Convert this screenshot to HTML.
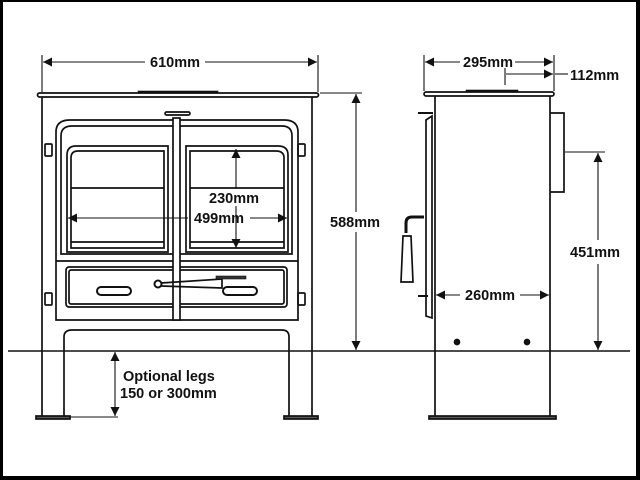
<!DOCTYPE html>
<html><head><meta charset="utf-8"><style>
html,body{margin:0;padding:0;background:#000;}
svg{display:block}
text{font-family:"Liberation Sans",Arial,sans-serif;font-weight:bold;font-size:14.5px;fill:#111}
</style></head><body>
<svg width="640" height="480" viewBox="0 0 640 480" xmlns="http://www.w3.org/2000/svg">
<defs>
<marker id="a" viewBox="0 0 10 10" refX="10" refY="5" markerWidth="11" markerHeight="9" orient="auto-start-reverse" markerUnits="userSpaceOnUse">
<path d="M0,0 L10,5 L0,10 z" fill="#111"/></marker>
</defs>
<rect x="3" y="2" width="633" height="474" fill="#fff"/>
<g stroke="#111" fill="none" stroke-width="1.7">
<line x1="8" y1="351" x2="630" y2="351" stroke-width="1.4"/>
<rect x="37.5" y="93" width="281" height="4" rx="2" stroke-width="1.7"/>
<rect x="138" y="91" width="80" height="2" fill="#111" stroke-width="0.6"/>
<line x1="42" y1="97" x2="42" y2="417"/>
<line x1="312" y1="97" x2="312" y2="417"/>
<line x1="64" y1="351" x2="64" y2="417"/>
<line x1="289" y1="351" x2="289" y2="417"/>
<path d="M64,351 L64,337 Q64,330 72,330 L282,330 Q289,330 289,337 L289,351"/>
<rect x="36" y="416" width="34" height="3" fill="#555"/>
<rect x="284" y="416" width="34" height="3" fill="#555"/>
<path d="M56,320 L56,132 Q56,120 70,120 L284,120 Q298,120 298,132 L298,320 Z"/>
<path d="M61,254 L61,136 Q61,126 72,126 L282,126 Q292,126 292,136 L292,254 Z"/>
<line x1="56" y1="261" x2="298" y2="261"/>
<rect x="66" y="267" width="221" height="40" rx="3"/>
<rect x="69" y="270" width="215" height="34" rx="2"/>
<path d="M67,252 L67,155 Q67,146 76,146 L168,146 L168,252 Z"/>
<path d="M71,248 L71,158 Q71,151 78,151 L164,151 L164,248 Z"/>
<line x1="71" y1="188" x2="164" y2="188"/>
<line x1="71" y1="242" x2="164" y2="242"/>
<path d="M186,252 L186,146 L278,146 Q288,146 288,155 L288,252 Z"/>
<path d="M190,248 L190,151 L276,151 Q284,151 284,158 L284,248 Z"/>
<line x1="190" y1="188" x2="284" y2="188"/>
<line x1="190" y1="242" x2="284" y2="242"/>
<rect x="173" y="118" width="7" height="202" fill="#fff"/>
<rect x="165" y="112" width="25" height="3" rx="1.5"/>
<rect x="97" y="287" width="34" height="8" rx="4" stroke-width="2"/>
<rect x="223" y="287" width="34" height="8" rx="4" stroke-width="2"/>
<circle cx="158" cy="284" r="3.5" stroke-width="2"/>
<path d="M161,283 L222,279 L222,288 L161,286" />
<rect x="216" y="276" width="30" height="3" fill="#333" stroke-width="0.6"/>
<rect x="45" y="144" width="7" height="12" rx="1"/>
<rect x="45" y="293" width="7" height="12" rx="1"/>
<rect x="298" y="144" width="7" height="12" rx="1"/>
<rect x="298" y="293" width="7" height="12" rx="1"/>
<rect x="424" y="92" width="130" height="4" rx="2" stroke-width="1.7"/>
<rect x="466" y="90" width="52" height="2" fill="#111" stroke-width="0.6"/>
<line x1="435" y1="96" x2="435" y2="418"/>
<line x1="550" y1="96" x2="550" y2="418"/>
<rect x="429" y="416" width="127" height="3" fill="#555"/>
<path d="M550,113 L564,113 L564,192 L550,192"/>
<path d="M426,120 L426,316 L432,318 L432,116 Z"/>
<line x1="418" y1="113" x2="433" y2="113" stroke-width="2"/>
<line x1="418" y1="296" x2="428" y2="296" stroke-width="2"/>
<path d="M424,217 L412,217 Q406,217 406,223 L406,233" stroke-width="3"/>
<path d="M403,236 L411,236 L413,282 L401,282 Z" fill="#fff"/>
<circle cx="457" cy="342" r="2.5" fill="#111"/>
<circle cx="527" cy="342" r="2.5" fill="#111"/>
</g>
<g stroke="#111" stroke-width="1.1" fill="none">
<line x1="42" y1="55" x2="42" y2="92"/>
<line x1="318" y1="55" x2="318" y2="92"/>
<line x1="43" y1="62" x2="145" y2="62" marker-start="url(#a)"/>
<line x1="205" y1="62" x2="317" y2="62" marker-end="url(#a)"/>
<line x1="320" y1="93" x2="362" y2="93"/>
<line x1="356" y1="94" x2="356" y2="212" marker-start="url(#a)"/>
<line x1="356" y1="232" x2="356" y2="350" marker-end="url(#a)"/>
<line x1="236" y1="149" x2="236" y2="188" marker-start="url(#a)"/>
<line x1="236" y1="206" x2="236" y2="248" marker-end="url(#a)"/>
<line x1="68" y1="218" x2="188" y2="218" marker-start="url(#a)"/>
<line x1="250" y1="218" x2="287" y2="218" marker-end="url(#a)"/>
<line x1="115" y1="352" x2="115" y2="416" marker-start="url(#a)" marker-end="url(#a)"/>
<line x1="70" y1="417" x2="118" y2="417"/>
<line x1="424" y1="55" x2="424" y2="91"/>
<line x1="554" y1="55" x2="554" y2="91"/>
<line x1="425" y1="62" x2="460" y2="62" marker-start="url(#a)"/>
<line x1="515" y1="62" x2="553" y2="62" marker-end="url(#a)"/>
<line x1="505" y1="68" x2="505" y2="85"/>
<line x1="506" y1="74" x2="553" y2="74" marker-end="url(#a)"/>
<line x1="555" y1="74" x2="568" y2="74"/>
<line x1="565" y1="152" x2="605" y2="152"/>
<line x1="598" y1="153" x2="598" y2="240" marker-start="url(#a)"/>
<line x1="598" y1="264" x2="598" y2="350" marker-end="url(#a)"/>
<line x1="436" y1="295" x2="460" y2="295" marker-start="url(#a)"/>
<line x1="520" y1="295" x2="549" y2="295" marker-end="url(#a)"/>
</g>
<text x="175" y="67" text-anchor="middle">610mm</text>
<text x="355" y="227" text-anchor="middle">588mm</text>
<text x="234" y="203" text-anchor="middle">230mm</text>
<text x="219" y="223" text-anchor="middle">499mm</text>
<text x="123" y="381">Optional legs</text>
<text x="120" y="398">150 or 300mm</text>
<text x="488" y="67" text-anchor="middle">295mm</text>
<text x="570" y="80">112mm</text>
<text x="595" y="257" text-anchor="middle">451mm</text>
<text x="490" y="300" text-anchor="middle">260mm</text>
</svg>
</body></html>
